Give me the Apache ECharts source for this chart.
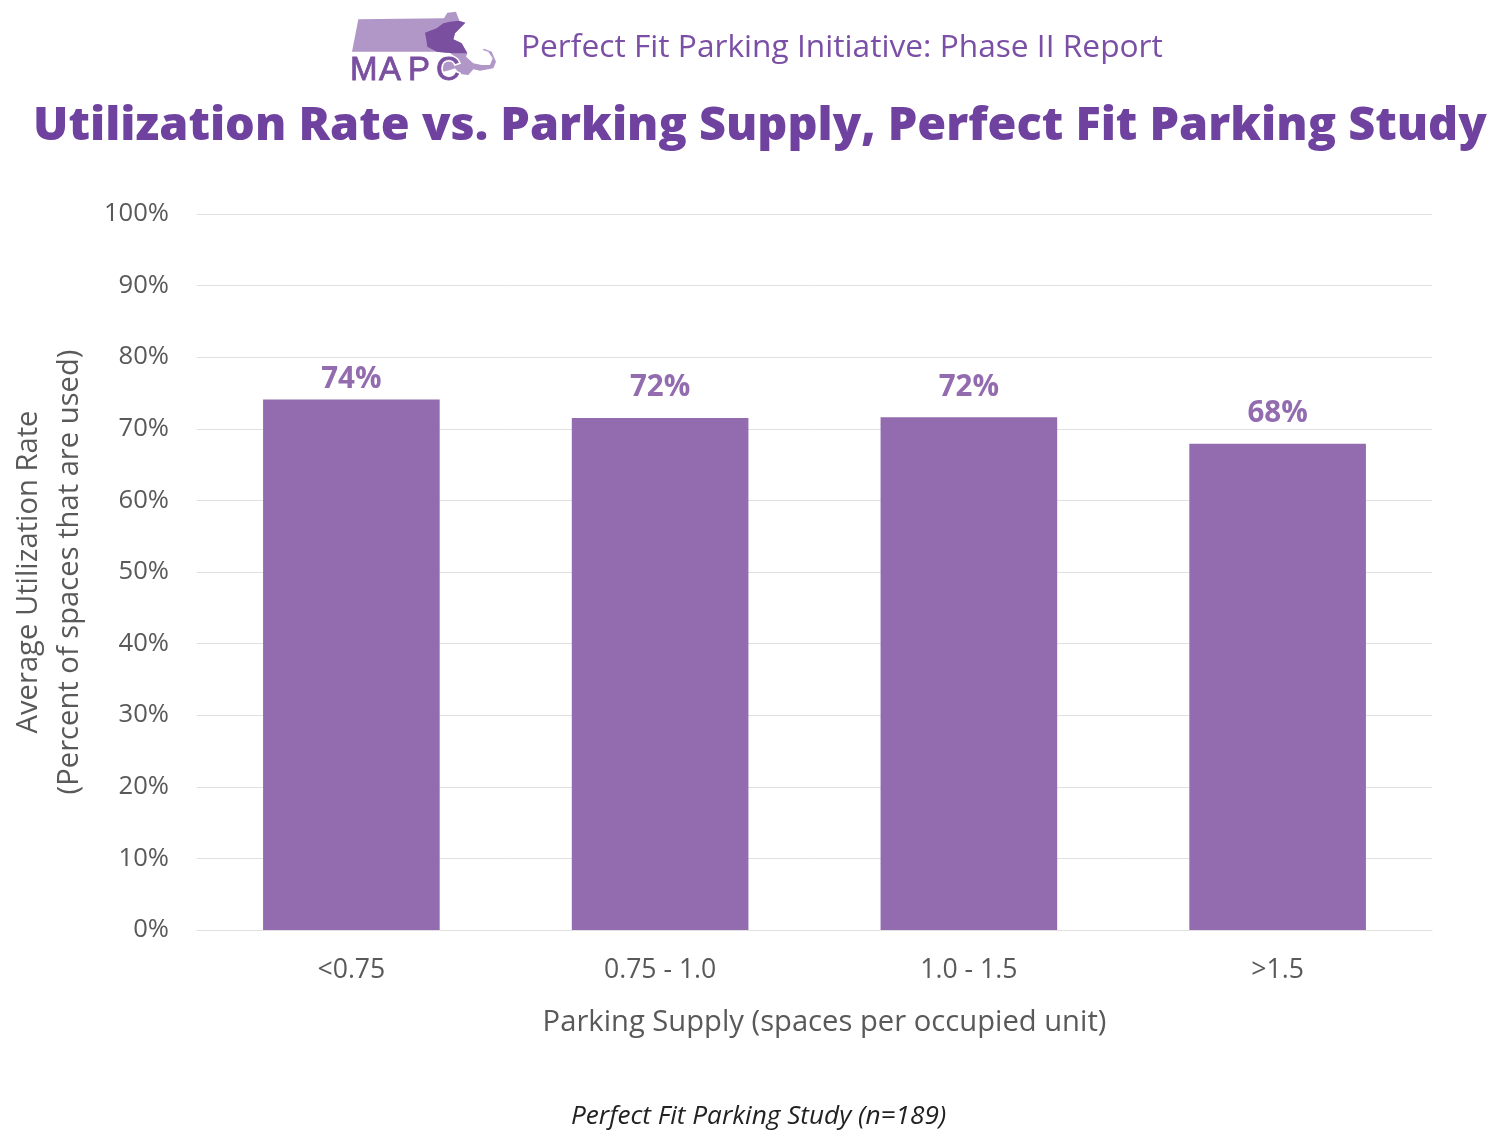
<!DOCTYPE html>
<html><head><meta charset="utf-8">
<style>html,body{margin:0;padding:0;background:#fff}#c{width:1500px;height:1142px}</style>
<script src="https://cdn.jsdelivr.net/npm/echarts@6/dist/echarts.min.js"></script>
</head><body><div id="c"></div>
<script>
const categories = ['<0.75','0.75 - 1.0','1.0 - 1.5','>1.5'];
const utilization = [74.1,71.5,71.6,67.9];
const labels = ['74%','72%','72%','68%'];
const chart = echarts.init(document.getElementById('c'));
const F='"Open Sans"';
const logoPt=p=>[340+p[0]/3,p[1]/3];
const lightShape=[[55,58],[312,55],[322,38],[348,35],[358,62],[376,68],[345,100],[340,118],[365,130],[382,160],[378,170],[400,190],[425,195],[450,195],[458,175],[445,155],[428,150],[432,146],[455,155],[468,185],[460,205],[420,212],[400,208],[385,225],[360,222],[345,205],[330,210],[310,215],[305,195],[320,175],[345,170],[325,155],[280,155],[36,155]].map(logoPt);
const darkShape=[[255,98],[270,92],[290,85],[310,70],[330,65],[355,62],[376,68],[345,100],[340,118],[365,130],[382,160],[345,160],[315,158],[290,155],[262,140],[258,115]].map(logoPt);
const logoLetters=[['M',350],['A',379],['P',408],['C',436]];
const logoInk='#7a4fa0';
chart.setOption({
 animation:false,
 backgroundColor:'#fff',
 title:[
  {text:'Perfect Fit Parking Initiative: Phase II Report',left:516,top:27,textStyle:{fontFamily:F,fontSize:31.7,fontWeight:'normal',color:'#7b4fa6'}},
  {text:'Utilization Rate vs. Parking Supply, Perfect Fit Parking Study',left:28,top:98,textStyle:{fontFamily:F,fontSize:46.8,fontWeight:800,color:'#6f42a0'}},
  {text:'Perfect Fit Parking Study (n=189)',left:566,top:1099,textStyle:{fontFamily:F,fontSize:26.2,fontWeight:'normal',fontStyle:'italic',color:'#222'}}
 ],
 graphic:[
  {type:'polygon',shape:{points:lightShape},style:{fill:'#b097c8'}},
  {type:'polygon',shape:{points:darkShape},style:{fill:logoInk}},
  {type:'text',x:436,y:54,style:{text:'C',fontFamily:'"Liberation Sans"',fontSize:33,fill:'#fff',stroke:'#fff',lineWidth:4}},
  ...logoLetters.map(l=>({type:'text',x:l[1],y:54,style:{text:l[0],fontFamily:'"Liberation Sans"',fontSize:33,fill:logoInk,stroke:logoInk,lineWidth:0.8}}))
 ],
 grid:{left:197,right:68,top:214,bottom:212,outerBoundsMode:'none'},
 xAxis:{type:'category',data:categories,name:'Parking Supply (spaces per occupied unit)',nameLocation:'middle',nameGap:78,
  nameTextStyle:{fontFamily:F,fontSize:29.2,color:'#595959',padding:[0,0,0,20]},
  axisLine:{lineStyle:{color:'#e0e0e0',width:1}},axisTick:{show:false},
  axisLabel:{fontFamily:F,fontSize:26.6,color:'#595959',margin:27}},
 yAxis:{type:'value',min:0,max:100,interval:10,name:'Average Utilization Rate\n(Percent of spaces that are used)',nameLocation:'middle',nameGap:107,
  nameTextStyle:{fontFamily:F,fontSize:29.2,color:'#595959',lineHeight:41},
  axisLine:{show:false},axisTick:{show:false},
  axisLabel:{fontFamily:F,fontSize:25.6,color:'#595959',margin:28,formatter:'{value}%',padding:[3,0,0,0]},
  splitLine:{lineStyle:{color:'#e0e0e0',width:1}}},
 series:[{type:'bar',barWidth:'57.2%',itemStyle:{color:'#926cae'},
  data:utilization.map((v,i)=>({value:v,label:{distance:i===0?5:15}})),
  label:{show:true,position:'top',fontFamily:F,fontSize:29.5,fontWeight:'bold',color:'#926cae',
   formatter:p=>labels[p.dataIndex]}}]
});
</script></body></html>
